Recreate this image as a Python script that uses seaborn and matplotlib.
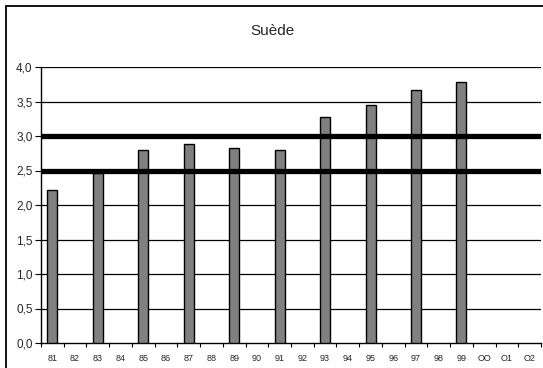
import numpy as np
import pandas as pd
import matplotlib
matplotlib.use("Agg")
import matplotlib.pyplot as plt
from matplotlib.patches import Rectangle
from matplotlib.ticker import FixedLocator, FuncFormatter
import seaborn as sns

# Years shown on the x axis
years = ["81", "82", "83", "84", "85", "86", "87", "88", "89", "90", "91",
         "92", "93", "94", "95", "96", "97", "98", "99", "OO", "O1", "O2"]
# Values for each year (only odd years reported)
values = [2.22, np.nan, 2.46, np.nan, 2.79, np.nan, 2.88, np.nan, 2.83, np.nan,
          2.79, np.nan, 3.27, np.nan, 3.45, np.nan, 3.67, np.nan, 3.78, np.nan,
          np.nan, np.nan]
# Reference band limits
band = [2.5, 3.0]
title = "Suède"

df = pd.DataFrame({"year": years, "value": values})

sns.set_style("white")
plt.rcParams["font.family"] = ["Liberation Sans", "DejaVu Sans"]

fig = plt.figure(figsize=(5.43, 3.68), dpi=100)
ax = fig.add_axes([41 / 543, 1 - 343 / 368, 500 / 543, 276 / 368])

sns.barplot(data=df, x="year", y="value", order=years, color="#808080",
            saturation=1, width=0.44, edgecolor="black", linewidth=1.0,
            ax=ax, zorder=3)

ax.set_xlim(-0.5, len(years) - 0.5)
ax.set_ylim(0, 4.0)
ax.yaxis.set_major_locator(FixedLocator(np.arange(0, 4.01, 0.5)))
ax.yaxis.set_major_formatter(FuncFormatter(lambda v, p: f"{v:.1f}".replace(".", ",")))
for y in np.arange(0.5, 4.01, 0.5):
    ax.axhline(y, color="black", linewidth=0.9, zorder=1)
for y in band:
    ax.axhline(y, color="black", linewidth=3.8, zorder=4)

ax.set_xlabel("")
ax.set_ylabel("")
ax.set_xticks(range(len(years)))
ax.set_xticklabels(years, fontsize=6.5)
ax.xaxis.set_minor_locator(FixedLocator(np.arange(-0.5, len(years), 1)))
ax.tick_params(axis="x", which="major", length=0, pad=8)
ax.tick_params(axis="x", which="minor", length=3, width=0.8, color="black", direction="out", bottom=True)
ax.tick_params(axis="y", length=4, width=0.8, color="black", direction="out", left=True, labelsize=8.5, pad=2)

for side in ["top", "right"]:
    ax.spines[side].set_visible(False)
for side in ["left", "bottom"]:
    ax.spines[side].set_color("black")
    ax.spines[side].set_linewidth(1.0)

fig.text(272 / 543, 1 - 31 / 368, title, ha="center", va="center", fontsize=11)

# Outer chart frame
fig.patches.append(Rectangle((6 / 543, -0.05), 1.2, 1 - 6 / 368 + 0.05,
                             transform=fig.transFigure, fill=False,
                             edgecolor="black", linewidth=1.3))

fig.savefig("out.png", dpi=100)
